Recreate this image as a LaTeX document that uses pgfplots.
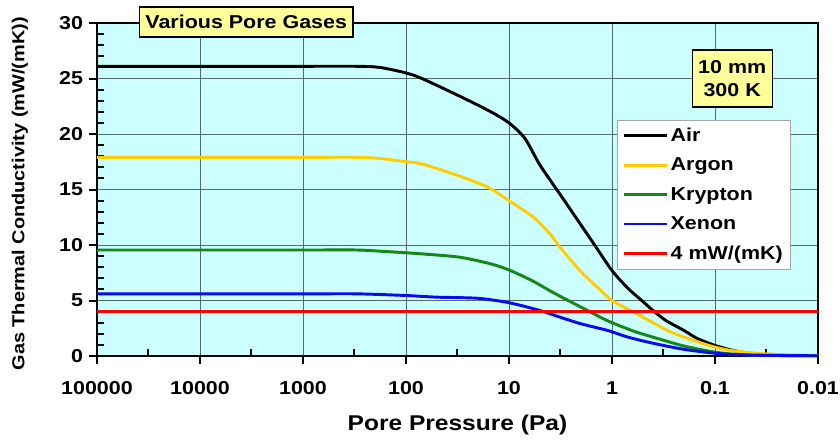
\documentclass[border=0pt]{standalone}
\usepackage{pgfplots}
\pgfplotsset{compat=1.18}
\usepackage{fontspec}
\setmainfont{Liberation Sans}[FakeStretch=1.15]

\definecolor{bgcyan}{RGB}{204,255,255}
\definecolor{boxyellow}{RGB}{255,255,153}
\definecolor{gridc}{RGB}{80,105,105}
\definecolor{cair}{RGB}{0,0,0}
\definecolor{cargon}{RGB}{255,204,0}
\definecolor{ckrypton}{RGB}{20,135,20}
\definecolor{cxenon}{RGB}{10,10,240}
\definecolor{cred}{RGB}{255,0,0}

\begin{document}
\begin{tikzpicture}
\path[use as bounding box] (-72.75pt,-63pt) rectangle (557.25pt,267pt);
\begin{axis}[
    scale only axis,
    width=540.75pt, height=249.75pt,
    at={(0,0)}, anchor=south west,
    xmode=log, x dir=reverse,
    xmin=0.01, xmax=100000,
    ymin=0, ymax=30,
    xtick={100000,10000,1000,100,10,1,0.1,0.01},
    xticklabels={100000,10000,1000,100,10,1,0.1,0.01},
    ytick={0,5,10,15,20,25,30},
    extra x ticks={31622.8,3162.28,316.228,31.6228,3.16228,0.316228,0.0316228},
    extra x tick labels={},
    extra x tick style={grid=none, tick align=inside, major tick length=5pt},
    extra y ticks={1,2,3,4,6,7,8,9,11,12,13,14,16,17,18,19,21,22,23,24,26,27,28,29},
    extra y tick labels={},
    extra y tick style={grid=none, tick align=inside, major tick length=5pt},
    minor tick num=0,
    tick align=outside,
    major tick length=6pt,
    xtick pos=bottom, ytick pos=left,
    tick style={black, line width=1.5pt},
    grid=major,
    major grid style={gridc, line width=0.7pt},
    axis line style={line width=2pt},
    axis background/.style={fill=bgcyan},
    /pgf/number format/assume math mode=true,
    tick label style={font=\bfseries\fontsize{14}{16}\selectfont},
    yticklabel style={xshift=-1pt},
    xticklabel style={yshift=-9.5pt},
    xlabel={Pore Pressure (Pa)},
    ylabel={Gas Thermal Conductivity (mW/(mK))},
    xlabel style={font=\bfseries\fontsize{16}{18}\selectfont, at={(axis description cs:0.5,-0.207)}, anchor=center},
    ylabel style={font=\bfseries\fontsize{13}{15}\selectfont, at={(axis description cs:-0.1068,0.487)}, anchor=center},
    clip=false,
    legend style={at={(0.9626,0.709)}, anchor=north east, draw=gray!70, fill=white,
        font=\bfseries\fontsize{14}{16}\selectfont, row sep=6.8pt, inner xsep=4pt, inner ysep=4pt,
        cells={anchor=west}},
    legend image code/.code={\draw[#1, line width=2.2pt] (0pt,0pt) -- (32pt,0pt);},
    every axis plot/.append style={line width=2.2pt, smooth, tension=0.45},
]

% Air
\addplot[cair] coordinates {
    (100000,26.1) (10000,26.1) (1000,26.1) (300,26.1) (180,26.0) (100,25.5)
    (70,25.0) (30,23.4) (15,22.0) (10,21.0) (7,19.6) (5,17.2) (3,14.2)
    (2,11.8) (1.5,10.1) (1,7.7) (0.7,6.1) (0.5,4.9) (0.4,4.1) (0.3,3.2)
    (0.2,2.3) (0.15,1.6) (0.1,0.95) (0.07,0.55) (0.055,0.35) (0.04,0.15)
    (0.03,0.07) (0.02,0.03) (0.01,0.02)
};
% Argon
\addplot[cargon] coordinates {
    (100000,17.9) (1000,17.9) (300,17.9) (180,17.8) (100,17.5) (70,17.3)
    (30,16.2) (16,15.2) (10,14.0) (5.8,12.5) (4,11.0) (3.2,9.8) (2,7.6)
    (1.3,5.95) (1,5.0) (0.63,4.0) (0.4,3.0) (0.26,2.1) (0.15,1.3) (0.1,0.8)
    (0.07,0.5) (0.042,0.27) (0.02,0.1) (0.01,0.05)
};
% Krypton
\addplot[ckrypton] coordinates {
    (100000,9.55) (1000,9.55) (300,9.55) (150,9.4) (70,9.2) (30,8.9) (15,8.3)
    (10,7.75) (6,6.8) (3.7,5.7) (2,4.4) (1.3,3.5) (1,3.0) (0.6,2.2) (0.4,1.7)
    (0.2,0.9) (0.1,0.35) (0.05,0.1) (0.01,0.02)
};
% Xenon
\addplot[cxenon] coordinates {
    (100000,5.6) (1000,5.6) (300,5.6) (100,5.45) (50,5.3) (20,5.2) (10,4.8)
    (5,4.1) (3.2,3.5) (2,2.9) (1.1,2.3) (0.7,1.7) (0.4,1.15) (0.2,0.6)
    (0.1,0.25) (0.05,0.08) (0.01,0.02)
};
% 4 mW/(mK)
\addplot[cred] coordinates {(100000,4) (0.01,4)};

\legend{Air, Argon, Krypton, Xenon, 4 mW/(mK)}

\node[draw=black, fill=boxyellow, line width=1pt, inner sep=0pt,
      minimum width=160pt, minimum height=22.5pt,
      font=\bfseries\fontsize{14}{16}\selectfont]
    at (rel axis cs:0.207,1.003) {Various Pore Gases};
\node[draw=black, fill=boxyellow, line width=1pt, inner sep=0pt,
      minimum width=60pt, minimum height=42.75pt, align=center,
      font=\bfseries\fontsize{14}{17}\selectfont]
    at (rel axis cs:0.881,0.833) {10 mm\\300 K};
\end{axis}
\end{tikzpicture}
\end{document}
